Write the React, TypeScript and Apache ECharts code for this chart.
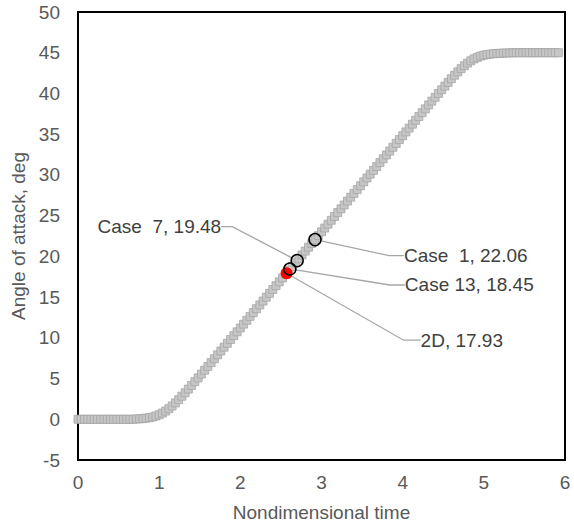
import React, { useEffect, useRef } from 'react';
import * as echarts from 'echarts';

// Pitch-up motion: angle of attack (deg) vs nondimensional time
const curveTime = [
  0.00, 0.04, 0.08, 0.12, 0.16, 0.20, 0.24, 0.28, 0.32, 0.36,
  0.40, 0.44, 0.48, 0.52, 0.56, 0.60, 0.64, 0.68, 0.72, 0.76,
  0.80, 0.84, 0.88, 0.92, 0.96, 1.00, 1.04, 1.08, 1.12, 1.16,
  1.20, 1.24, 1.28, 1.32, 1.36, 1.40, 1.44, 1.48, 1.52, 1.56,
  1.60, 1.64, 1.68, 1.72, 1.76, 1.80, 1.84, 1.88, 1.92, 1.96,
  2.00, 2.04, 2.08, 2.12, 2.16, 2.20, 2.24, 2.28, 2.32, 2.36,
  2.40, 2.44, 2.48, 2.52, 2.56, 2.60, 2.64, 2.68, 2.72, 2.76,
  2.80, 2.84, 2.88, 2.92, 2.96, 3.00, 3.04, 3.08, 3.12, 3.16,
  3.20, 3.24, 3.28, 3.32, 3.36, 3.40, 3.44, 3.48, 3.52, 3.56,
  3.60, 3.64, 3.68, 3.72, 3.76, 3.80, 3.84, 3.88, 3.92, 3.96,
  4.00, 4.04, 4.08, 4.12, 4.16, 4.20, 4.24, 4.28, 4.32, 4.36,
  4.40, 4.44, 4.48, 4.52, 4.56, 4.60, 4.64, 4.68, 4.72, 4.76,
  4.80, 4.84, 4.88, 4.92, 4.96, 5.00, 5.04, 5.08, 5.12, 5.16,
  5.20, 5.24, 5.28, 5.32, 5.36, 5.40, 5.44, 5.48, 5.52, 5.56,
  5.60, 5.64, 5.68, 5.72, 5.76, 5.80, 5.84, 5.88, 5.92,
];
const curveAngle = [
  0, 0, 0, 0, 0, 0, 0, 0, 0, 0,
  0, 0, 0, 0, 0, 0, 0, 0, 0.04, 0.06,
  0.09, 0.14, 0.20, 0.28, 0.40, 0.56, 0.76, 1.01, 1.30, 1.64,
  2.01, 2.41, 2.83, 3.26, 3.71, 4.16, 4.62, 5.08, 5.55, 6.02,
  6.49, 6.96, 7.43, 7.91, 8.38, 8.85, 9.32, 9.79, 10.27, 10.74,
  11.21, 11.68, 12.15, 12.63, 13.10, 13.57, 14.04, 14.51, 14.99, 15.46,
  15.93, 16.40, 16.87, 17.35, 17.82, 18.29, 18.76, 19.23, 19.71, 20.18,
  20.65, 21.12, 21.59, 22.07, 22.54, 23.01, 23.48, 23.95, 24.43, 24.90,
  25.37, 25.84, 26.31, 26.79, 27.26, 27.73, 28.20, 28.67, 29.15, 29.62,
  30.09, 30.56, 31.03, 31.51, 31.98, 32.45, 32.92, 33.39, 33.87, 34.34,
  34.81, 35.28, 35.75, 36.23, 36.70, 37.17, 37.64, 38.11, 38.59, 39.06,
  39.53, 40.00, 40.45, 40.91, 41.36, 41.81, 42.24, 42.65, 43.05, 43.41,
  43.73, 44.01, 44.25, 44.44, 44.59, 44.70, 44.78, 44.83, 44.88, 44.91,
  44.93, 44.95, 44.97, 44.98, 44.99, 45, 45, 45, 45, 45,
  45, 45, 45, 45, 45, 45, 45, 45, 45,
];

const caseNames = ['Case  1', 'Case  7', 'Case 13'];
const caseTime = [2.92, 2.70, 2.61];
const caseAngle = [22.06, 19.48, 18.45];

const twoDNames = ['2D'];
const twoDTime = [2.57];
const twoDAngle = [17.93];

// label placement (offsets from the marker centre, in px)
const caseLabelDX = [77, -60, 103];
const caseLabelDY = [16, -34, 16];
const caseLabelAlign = ['left', 'right', 'left'];
const caseLabelPadding = [[0, 0, 0, 12], [0, 16, 0, 0], [0, 0, 0, 12]];
const caseLabelLen2 = [15, 11, 15];
const twoDLabelDX = [108];
const twoDLabelDY = [67];
const twoDLabelPadding = [[0, 0, 0, 26]];
const twoDLabelLen2 = [17];

const FONT = '"Liberation Sans", Arial, sans-serif';

export default function App() {
  const ref = useRef<HTMLDivElement>(null);

  useEffect(() => {
    document.body.style.margin = '0';
    if (!ref.current) return;
    const chart = echarts.init(ref.current, undefined, { renderer: 'svg' });

    const curveData = curveTime.map((t, i) => [t, curveAngle[i]]);
    const caseData = caseTime.map((t, i) => ({
      value: [t, caseAngle[i]],
      name: caseNames[i],
      label: { padding: caseLabelPadding[i] },
      labelLine: { length2: caseLabelLen2[i] },
    }));
    const twoDData = twoDTime.map((t, i) => ({
      value: [t, twoDAngle[i]],
      name: twoDNames[i],
      label: { padding: twoDLabelPadding[i] },
      labelLine: { length2: twoDLabelLen2[i] },
    }));

    const labelStyle = {
      show: true,
      position: 'inside',
      fontFamily: FONT,
      fontSize: 19,
      color: '#404040',
      formatter: (p: any) => `${p.name}, ${p.value[1].toFixed(2)}`,
    };
    const lineStyle = {
      show: true,
      lineStyle: { color: '#a6a6a6', width: 1.3 },
    };

    const makeLayout = (dx: number[], dy: number[], align: string[]) => (params: any) => {
      const r = params.rect;
      const cx = r.x + r.width / 2;
      const cy = r.y + r.height / 2;
      const i = params.dataIndex;
      return {
        x: cx + dx[i],
        y: cy + dy[i],
        align: align[i],
        verticalAlign: 'middle',
      };
    };

    chart.setOption({
      animation: false,
      backgroundColor: '#ffffff',
      textStyle: { fontFamily: FONT },
      grid: {
        left: 78,
        right: 9,
        top: 12,
        bottom: 67,
        show: true,
        borderColor: '#000000',
        borderWidth: 2,
      },
      xAxis: {
        type: 'value',
        min: 0,
        max: 6,
        interval: 1,
        name: 'Nondimensional time',
        nameLocation: 'middle',
        nameGap: 43,
        nameTextStyle: { fontFamily: FONT, fontSize: 19, color: '#595959' },
        axisLine: { show: true, onZero: false, lineStyle: { color: '#000000', width: 2 } },
        axisTick: { show: false },
        splitLine: { show: false },
        axisLabel: { fontFamily: FONT, fontSize: 19, color: '#595959', margin: 13 },
      },
      yAxis: {
        type: 'value',
        min: -5,
        max: 50,
        interval: 5,
        name: 'Angle of attack, deg',
        nameLocation: 'middle',
        nameGap: 37,
        nameTextStyle: { fontFamily: FONT, fontSize: 19, color: '#595959' },
        axisLine: { show: true, onZero: false, lineStyle: { color: '#000000', width: 2 } },
        axisTick: { show: false },
        splitLine: { show: false },
        axisLabel: { fontFamily: FONT, fontSize: 19, color: '#595959', margin: 18 },
      },
      series: [
        {
          type: 'scatter',
          data: curveData,
          symbol: 'rect',
          symbolSize: 8,
          clip: true,
          itemStyle: { color: '#c6c6c6', borderColor: '#a0a0a0', borderWidth: 0.7, opacity: 1 },
          silent: true,
          z: 2,
        },
        {
          type: 'scatter',
          data: twoDData,
          symbol: 'circle',
          symbolSize: 12,
          itemStyle: { color: '#ff0000', opacity: 1 },
          label: labelStyle,
          labelLine: lineStyle,
          labelLayout: makeLayout(twoDLabelDX, twoDLabelDY, ['left']),
          z: 3,
        },
        {
          type: 'scatter',
          data: caseData,
          symbol: 'circle',
          symbolSize: 12,
          itemStyle: { color: 'rgba(0,0,0,0)', borderColor: '#000000', borderWidth: 1.5, opacity: 1 },
          label: labelStyle,
          labelLine: lineStyle,
          labelLayout: makeLayout(caseLabelDX, caseLabelDY, caseLabelAlign),
          z: 4,
        },
      ],
    });

    return () => {
      chart.dispose();
    };
  }, []);

  return <div ref={ref} style={{ width: 574, height: 527 }} />;
}
